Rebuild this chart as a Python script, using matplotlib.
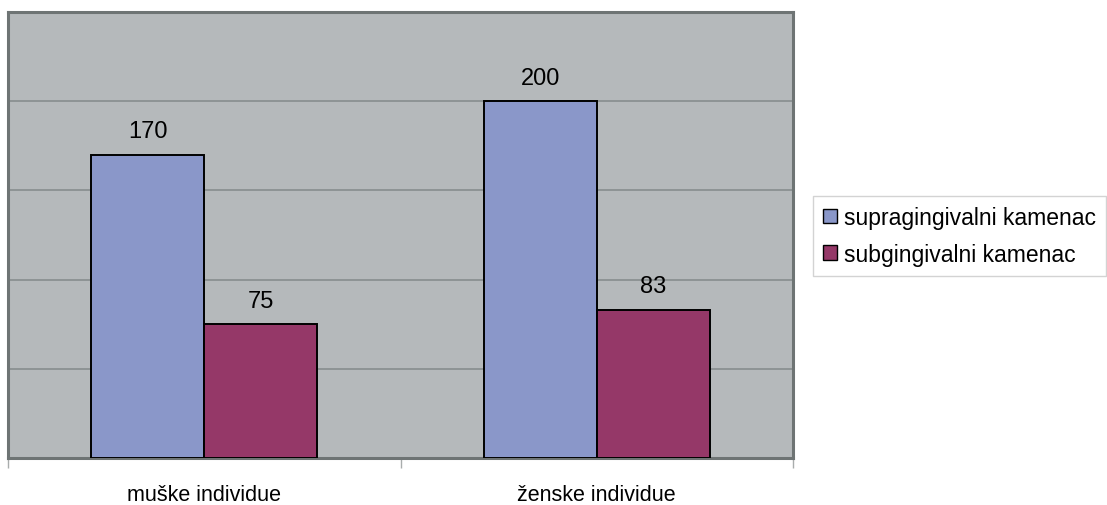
import numpy as np
import matplotlib
matplotlib.use("Agg")
import matplotlib.pyplot as plt

plt.rcParams['font.family'] = ['Liberation Sans', 'DejaVu Sans']

categories = ["muške individue", "ženske individue"]
series_names = ["supragingivalni kamenac", "subgingivalni kamenac"]
supra = [170, 200]
sub = [75, 83]

BLUE = "#8a97c9"
MAROON = "#953868"
PLOT_BG = "#b5b9bb"
FRAME = "#6e7474"
GRID = "#878d8e"

fig = plt.figure(figsize=(11.07, 5.06), dpi=100)
ax = fig.add_axes([0.0072, 0.0929, 0.7092, 0.8814])
ax.set_facecolor(PLOT_BG)

x = np.arange(len(categories))
w = 0.288
b1 = ax.bar(x - w / 2, supra, w, color=BLUE, edgecolor="black", linewidth=1.4,
            label=series_names[0], zorder=3)
b2 = ax.bar(x + w / 2, sub, w, color=MAROON, edgecolor="black", linewidth=1.4,
            label=series_names[1], zorder=3)

for bars, vals in ((b1, supra), (b2, sub)):
    for r, v in zip(bars, vals):
        ax.annotate(str(v), (r.get_x() + r.get_width() / 2, v),
                    xytext=(0, 9), textcoords="offset points",
                    ha="center", va="bottom", fontsize=17)

ax.set_xlim(-0.5, 1.5)
ax.set_ylim(0, 250)
ax.set_yticks(np.arange(0, 251, 50))
ax.yaxis.grid(True, color=GRID, linewidth=1.2, zorder=1)
ax.tick_params(axis="y", left=False, labelleft=False)

# category boundaries get the tick marks, names sit in between
ax.set_xticks([-0.5, 0.5, 1.5])
ax.set_xticklabels([])
ax.set_xticks(x, minor=True)
ax.set_xticklabels(categories, minor=True, fontsize=15.5)
ax.tick_params(axis="x", which="major", length=7, width=1, color="#a9adad",
               direction="out")
ax.tick_params(axis="x", which="minor", length=0, pad=19)

for side in ["left", "top", "right", "bottom"]:
    ax.spines[side].set_color(FRAME)
    ax.spines[side].set_linewidth(2.2)

leg = fig.legend(loc="center left", bbox_to_anchor=(0.7344, 0.532), fontsize=16.5,
                 frameon=True, fancybox=False, edgecolor="#c8c8c8",
                 handlelength=0.6, handleheight=0.6, handletextpad=0.3,
                 borderpad=0.45, labelspacing=0.6, borderaxespad=0)
leg.get_frame().set_linewidth(1.0)
for h in leg.legend_handles:
    h.set_linewidth(1.0)

fig.savefig("out.png", dpi=100)
